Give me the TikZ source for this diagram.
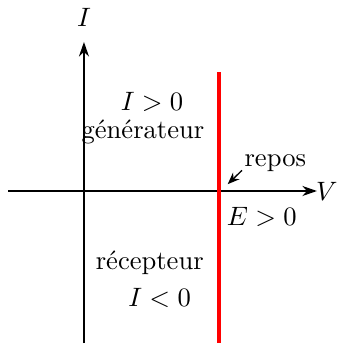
\documentclass[tikz,border=0pt]{standalone}
\usepackage{tikz}
\usetikzlibrary{arrows.meta, calc, positioning}

\begin{document}
\begin{tikzpicture}[axe/.style={line width=0.5pt, -{Stealth[length=5.5pt,width=3.8pt]}}]
\useasboundingbox (-1.11,-2.036) rectangle (3.345,2.525);
% axes
\coordinate (xg) at (-1.0,0);
\coordinate (xd) at (3.08,0);
\coordinate (yb) at (0,-2.01);
\coordinate (yh) at (0,1.97);
\draw[axe] (xg) -- (xd);
\draw[axe] (yb) -- (yh);
\node (lV) at (3.21,0) {$V$};
\node (lI) at (0,2.29) {$I$};

% caracteristique : source de tension ideale
\coordinate (rh) at (1.785,1.57);
\coordinate (rb) at (1.785,-2.01);
\draw[red, line width=1.5pt] (rh) -- (rb);

% zones
\node (ipos) at (0.90,1.18) {$I>0$};
\node (gen) at (0.78,0.78) {générateur};
\node (rec) at (0.87,-0.95) {récepteur};
\node (ineg) at (1.0,-1.41) {$I<0$};
\node (E) at (2.35,-0.34) {$E>0$};

% point de repos
\node (repos) at (2.53,0.37) {repos};
\coordinate (pr) at (1.90,0.09);
\draw[line width=0.5pt, -{Stealth[length=4.5pt,width=3.5pt]}] ($(repos.south west)+(0.09,0.14)$) -- (pr);
\end{tikzpicture}
\end{document}
